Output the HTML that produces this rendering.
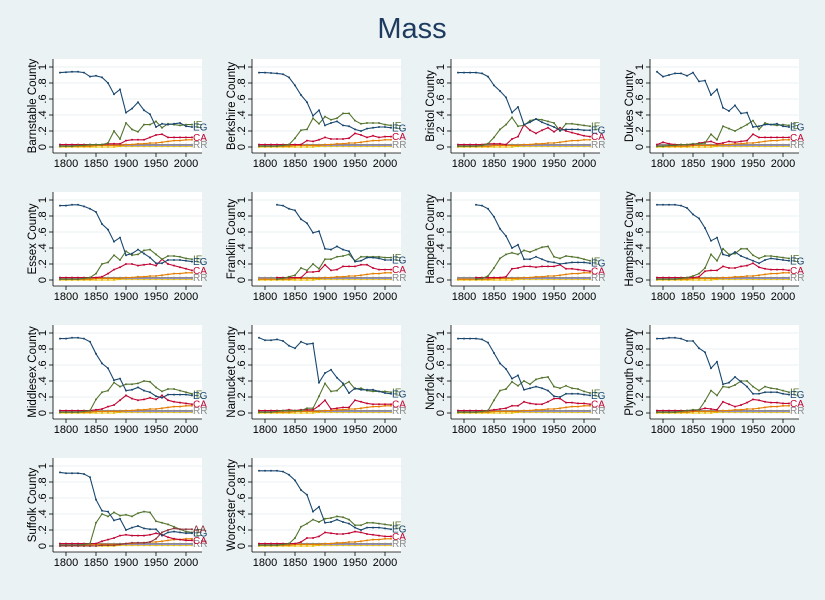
<!DOCTYPE html>
<html><head><meta charset="utf-8"><style>
body{margin:0;background:#eaf2f3;}
svg{display:block;font-family:"Liberation Sans",sans-serif;}
</style></head><body>
<svg id="c" width="825" height="600">
<rect width="825" height="600" fill="#eaf2f3"/>
<text x="412" y="38" text-anchor="middle" font-size="29" fill="#1e3a5f">Mass</text>
</svg>
<script>
const years=[1790,1800,1810,1820,1830,1840,1850,1860,1870,1880,1890,1900,1910,1920,1930,1940,1950,1960,1970,1980,1990,2000,2010];
const xTicks=[1800,1850,1900,1950,2000];
const yTicks=[0,0.2,0.4,0.6,0.8,1];
const yTickLabels=["0",".2",".4",".6",".8","1"];
const counties=["Barnstable County","Berkshire County","Bristol County","Dukes County","Essex County","Franklin County","Hampden County","Hampshire County","Middlesex County","Nantucket County","Norfolk County","Plymouth County","Suffolk County","Worcester County"];
const N=null;
const EG=[
[.93,.935,.94,.94,.93,.88,.89,.87,.80,.66,.72,.43,.48,.56,.46,.41,.25,.29,.28,.29,.30,.26,.25],
[.93,.93,.925,.92,.91,.87,.77,.65,.56,.39,.46,.27,.30,.32,.27,.26,.22,.20,.23,.24,.25,.25,.24],
[.93,.93,.93,.93,.92,.88,.77,.70,.62,.43,.50,.28,.31,.35,.31,.28,.25,.21,.22,.22,.22,.21,.21],
[.94,.88,.90,.92,.92,.89,.93,.82,.83,.65,.72,.49,.45,.52,.42,.43,.25,.26,.28,.28,.29,.26,.25],
[.93,.93,.94,.94,.92,.89,.85,.70,.63,.48,.53,.31,.33,.38,.33,.28,.21,.21,.25,.25,.25,.24,.23],
[N,N,N,.94,.93,.89,.87,.76,.71,.59,.61,.39,.38,.42,.38,.36,.23,.24,.28,.28,.27,.25,.25],
[N,N,N,.94,.93,.89,.79,.64,.55,.40,.44,.26,.26,.29,.26,.23,.22,.20,.21,.22,.22,.22,.21],
[.94,.94,.94,.94,.93,.90,.82,.77,.65,.49,.53,.32,.30,.35,.30,.27,.24,.21,.25,.27,.26,.25,.24],
[.93,.93,.94,.94,.93,.89,.74,.62,.56,.41,.43,.28,.29,.32,.28,.26,.21,.19,.23,.23,.23,.23,.22],
[.94,.91,.91,.92,.90,.84,.81,.89,.86,.87,.38,.50,.54,.44,.37,.25,.31,.29,.29,.29,.27,.25,.24],
[.93,.93,.93,.93,.92,.88,.75,.62,.55,.43,.47,.29,.31,.33,.31,.28,.21,.20,.24,.24,.24,.23,.22],
[.93,.93,.94,.94,.93,.90,.90,.81,.76,.56,.64,.36,.38,.45,.39,.33,.24,.24,.26,.26,.26,.24,.23],
[.92,.91,.91,.91,.90,.86,.58,.44,.43,.32,.34,.20,.23,.25,.22,.21,.21,.13,.17,.18,.17,.16,.16],
[.94,.94,.94,.94,.93,.89,.82,.70,.64,.43,.49,.29,.30,.33,.30,.28,.23,.20,.23,.23,.23,.22,.21]];
const IE=[
[.01,.01,.01,.02,.02,.03,.03,.03,.05,.20,.10,.30,.22,.19,.28,.28,.32,.24,.29,.28,.27,.28,.28],
[.01,.01,.01,.01,.02,.03,.11,.21,.22,.36,.29,.38,.34,.36,.42,.42,.33,.29,.30,.30,.30,.28,.27],
[.01,.01,.01,.01,.02,.04,.12,.22,.28,.37,.26,.27,.33,.35,.34,.32,.30,.20,.29,.29,.28,.27,.26],
[.01,.01,.02,.02,.03,.03,.04,.04,.05,.16,.09,.26,.23,.20,.24,.28,.33,.22,.30,.28,.27,.28,.27],
[.01,.01,.01,.01,.02,.03,.08,.20,.22,.31,.25,.36,.31,.32,.37,.38,.32,.26,.30,.30,.29,.27,.26],
[N,N,N,.01,.02,.04,.06,.15,.12,.20,.14,.26,.26,.29,.30,.32,.24,.29,.29,.29,.29,.28,.28],
[N,N,N,.01,.02,.05,.15,.27,.32,.34,.32,.37,.35,.38,.41,.42,.29,.27,.30,.29,.28,.26,.24],
[.01,.01,.01,.01,.02,.03,.05,.08,.15,.32,.24,.39,.32,.33,.39,.39,.31,.27,.30,.30,.29,.28,.27],
[.01,.01,.01,.01,.02,.03,.17,.26,.28,.38,.33,.36,.36,.37,.40,.39,.32,.27,.30,.30,.28,.26,.24],
[.01,.01,.01,.02,.03,.03,.03,.03,.06,.06,.21,.37,.27,.28,.35,.39,.30,.31,.28,.27,.27,.27,.26],
[.01,.01,.01,.01,.02,.03,.16,.28,.30,.39,.34,.40,.36,.42,.44,.45,.33,.31,.34,.31,.30,.27,.25],
[.01,.01,.01,.01,.02,.03,.04,.04,.15,.28,.22,.33,.32,.35,.40,.40,.33,.28,.33,.31,.30,.28,.26],
[.01,.01,.01,.01,.02,.03,.29,.40,.37,.42,.38,.39,.37,.41,.43,.42,.31,.29,.27,.24,.21,.18,.17],
[.01,.01,.01,.01,.02,.03,.10,.24,.28,.33,.30,.34,.35,.37,.36,.33,.26,.26,.29,.29,.28,.27,.26]];
const CA=[
[.03,.03,.03,.03,.03,.03,.03,.03,.04,.04,.04,.08,.09,.09,.09,.12,.15,.16,.12,.12,.12,.12,.12],
[.03,.03,.03,.03,.03,.03,.03,.03,.08,.07,.09,.12,.10,.10,.10,.11,.17,.15,.12,.14,.12,.13,.13],
[.03,.03,.03,.03,.03,.04,.04,.04,.03,.10,.13,.28,.21,.17,.21,.24,.19,.24,.20,.18,.16,.14,.13],
[.03,.06,.04,.03,.03,.03,.03,.05,.06,.07,.04,.05,.07,.06,.07,.08,.16,.12,.12,.12,.12,.12,.12],
[.03,.03,.03,.03,.03,.03,.03,.04,.08,.13,.16,.20,.20,.18,.19,.20,.18,.26,.20,.18,.16,.14,.12],
[N,N,N,.03,.03,.03,.03,.03,.10,.10,.11,.19,.12,.13,.17,.17,.17,.19,.19,.15,.13,.13,.13],
[N,N,N,.03,.03,.03,.03,.03,.04,.14,.15,.17,.17,.16,.17,.17,.17,.19,.14,.14,.13,.12,.11],
[.03,.03,.03,.03,.03,.03,.03,.04,.11,.12,.12,.17,.15,.15,.17,.18,.21,.16,.14,.13,.13,.13,.12],
[.03,.03,.03,.03,.03,.03,.04,.05,.08,.10,.16,.22,.18,.16,.17,.19,.17,.22,.16,.14,.13,.12,.11],
[.03,.03,.03,.03,.03,.04,.03,.04,.04,.04,.09,.16,.05,.06,.07,.07,.16,.14,.12,.11,.11,.11,.11],
[.03,.03,.03,.03,.03,.03,.04,.05,.06,.09,.09,.14,.12,.11,.11,.14,.18,.18,.13,.13,.12,.12,.11],
[.03,.03,.03,.03,.03,.03,.03,.04,.06,.05,.04,.14,.11,.08,.10,.13,.17,.16,.14,.13,.13,.12,.12],
[.03,.03,.03,.03,.03,.03,.03,.06,.08,.10,.13,.14,.13,.13,.13,.14,.16,.14,.11,.09,.08,.07,.07],
[.03,.03,.03,.03,.03,.03,.03,.05,.10,.10,.12,.17,.16,.15,.15,.16,.18,.17,.15,.14,.13,.12,.12]];
const OR=[.01,.01,.01,.01,.01,.01,.02,.02,.02,.02,.02,.03,.03,.04,.04,.05,.05,.06,.07,.08,.08,.09,.09];
const GR=[.03,.03,.03,.03,.03,.03,.03,.03,.03,.03,.03,.03,.03,.03,.03,.03,.03,.03,.03,.03,.03,.03,.03];
const PU=[.02,.02,.02,.02,.02,.02,.02,.02,.02,.02,.02,.02,.02,.02,.02,.02,.02,.02,.02,.02,.02,.02,.02];
const YE=[0,0,0,0,0,0,0,0,0,0,.01,.01,.01,.01,.01,.01,.01,.01,.01,.01,.01,.01,.01];
const AA_SUFFOLK=[0,0,0,0,0,0,0,.01,.01,.01,.02,.03,.04,.04,.04,.05,.09,.17,.20,.22,.21,.21,.21];

const svg=document.getElementById('c');
const NS='http://www.w3.org/2000/svg';
function mk(tag,attrs,parent){const e=document.createElementNS(NS,tag);for(const k in attrs)e.setAttribute(k,attrs[k]);parent.appendChild(e);return e;}
counties.forEach((name,i)=>{
  const r=Math.floor(i/4),c=i%4;
  const ox=199*c, oy=133*r;
  const xs=yr=>66+ox+(yr-1800)*0.6;
  const ys=v=>147+oy-80*v;
  const g=mk('g',{},svg);
  
  
  const bg=mk('rect',{x:53+ox,y:59+oy,width:149,height:94,fill:'#ffffff'},g);
  
  
  yTicks.forEach((t,k)=>{
    mk('line',{x1:53+ox,x2:202+ox,y1:ys(t),y2:ys(t),stroke:'#eaf2f3','stroke-width':1},g);
    mk('line',{x1:49+ox,x2:53+ox,y1:ys(t),y2:ys(t),stroke:'#000','stroke-width':0.8},g);
    const tl=mk('text',{x:0,y:0,'font-size':11,'text-anchor':'middle',transform:`translate(${46+ox},${ys(t)}) rotate(-90)`},g);
    tl.textContent=yTickLabels[k];
    
    
  });
  mk('line',{x1:53+ox,x2:53+ox,y1:59+oy,y2:153+oy,stroke:'#000','stroke-width':0.8},g);
  mk('line',{x1:53+ox,x2:202+ox,y1:153+oy,y2:153+oy,stroke:'#000','stroke-width':0.8},g);
  xTicks.forEach(t=>{
    mk('line',{x1:xs(t),x2:xs(t),y1:153+oy,y2:157+oy,stroke:'#000','stroke-width':0.8},g);
    const xl=mk('text',{x:xs(t),y:167+oy,'font-size':11,'text-anchor':'middle'},g);
    xl.textContent=t;
    
    
  });
  const yt=mk('text',{x:0,y:0,'font-size':11.5,'text-anchor':'middle',transform:`translate(${36+ox},${106+oy}) rotate(-90)`},g);
  yt.textContent=name;
  
  
  const series=[[YE,'#e8c000',''],[PU,'#938dd2',''],[GR,'#8c8c8c','RR'],[OR,'#e37e00',''],[CA[i],'#c10534','CA'],[IE[i],'#55752f','IE'],[EG[i],'#1a476f','EG']];
  if(i===12) series.push([AA_SUFFOLK,'#90353b','AA']);
  series.forEach(([vals,col,lab])=>{
    let d='';let last=null;
    vals.forEach((v,j)=>{if(v===null)return;const X=xs(years[j]),Y=ys(v);d+=(d?'L':'M')+X.toFixed(1)+','+Y.toFixed(1);last=[X,Y];
      const m=mk('circle',{cx:X,cy:Y,r:1,fill:col},g);
      
      });
    const p=mk('path',{d:d,fill:'none',stroke:col,'stroke-width':1.1},g);
    
    
    if(lab&&last){
      const tx=mk('text',{x:last[0]+1,y:last[1]+3.5,'font-size':10,fill:col},g);
      tx.textContent=lab;
      
      
    }
  });
});
</script>
</body></html>
